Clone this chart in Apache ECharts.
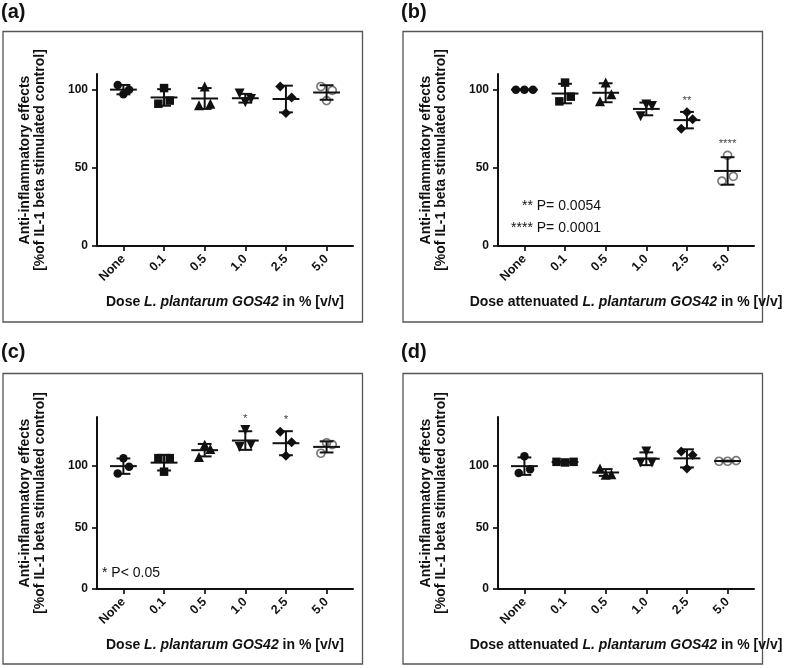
<!DOCTYPE html>
<html>
<head>
<meta charset="utf-8">
<script src="https://cdn.jsdelivr.net/npm/echarts@6/dist/echarts.min.js"></script>
<style>
html,body{margin:0;padding:0;background:#fff;}
#chart{width:800px;height:668px;}
</style>
</head>
<body>
<div id="chart"></div>
<script>
// ---- data ----
const doses = ['None', '0.1', '0.5', '1.0', '2.5', '5.0'];
const yTicks = [0, 50, 100];
// three replicate values per dose (listed left -> right as drawn)
const panelA = [[103, 97, 100], [91, 101, 93], [90, 102, 91], [97.5, 92, 94], [102, 85, 95], [102, 93, 99.5]];
const panelB = [[100, 100, 100], [92.5, 104.5, 95.5], [92.5, 104.5, 97], [83, 90.5, 89.5], [75, 85.5, 81], [41.5, 58, 44.5]];
const panelC = [[94, 106.5, 99.5], [106.5, 95.5, 106.5], [107.5, 117.5, 114], [115.5, 129.5, 117.5], [128, 108.5, 119.5], [110.5, 119, 117.5]];
const panelD = [[94.5, 108, 97.5], [103.5, 103, 103.5], [98, 93, 93.5], [103, 112, 103], [112, 98, 109], [104, 104, 104.5]];
const starsA = ['', '', '', '', '', ''];
const starsB = ['', '', '', '', '**', '****'];
const starsC = ['', '', '', '*', '*', ''];
const starsD = ['', '', '', '', '', ''];
const yMaxTop = 110;
const yMaxBottom = 140;
const yName = 'Anti-inflammatory effects\n[%of IL-1 beta stimulated control]';
const xNamePlain = ['Dose ', 'L. plantarum GOS42', ' in % [v/v]'];
const xNameAtt = ['Dose attenuated ', 'L. plantarum GOS42', ' in % [v/v]'];

// ---- styling ----
const FONT = '"Liberation Sans", Arial, Helvetica, sans-serif';
const INK = '#111';
const markers = [
  { symbol: 'circle', size: 8.5, rotate: 0, color: INK, border: INK, bw: 0 },
  { symbol: 'rect', size: 8.5, rotate: 0, color: INK, border: INK, bw: 0 },
  { symbol: 'triangle', size: 10, rotate: 0, color: INK, border: INK, bw: 0 },
  { symbol: 'triangle', size: 10, rotate: 180, color: INK, border: INK, bw: 0 },
  { symbol: 'diamond', size: 10, rotate: 0, color: INK, border: INK, bw: 0 },
  { symbol: 'circle', size: 8, rotate: 0, color: 'rgba(255,255,255,0)', border: '#7a7a7a', bw: 1.7 }
];

function meanSd(arr) {
  const m = arr.reduce((a, b) => a + b, 0) / arr.length;
  const v = arr.reduce((a, b) => a + (b - m) * (b - m), 0) / (arr.length - 1);
  return [m, Math.sqrt(v)];
}

const panels = [
  { data: panelA, stars: starsA, yMax: yMaxTop, left: 97, top: 74, xName: xNamePlain },
  { data: panelB, stars: starsB, yMax: yMaxTop, left: 498, top: 74, xName: xNameAtt },
  { data: panelC, stars: starsC, yMax: yMaxBottom, left: 97, top: 417, xName: xNamePlain },
  { data: panelD, stars: starsD, yMax: yMaxBottom, left: 498, top: 417, xName: xNameAtt }
];

const idx = doses.map((d, i) => i);
const grids = [], xAxes = [], yAxes = [], series = [];

panels.forEach((p, k) => {
  grids.push({ left: p.left, top: p.top, width: 256, height: 172, outerBoundsMode: 'none', containLabel: false });
  xAxes.push({
    gridIndex: k, type: 'value', min: -0.65, max: 5.65,
    splitLine: { show: false },
    axisLine: { show: true, onZero: false, lineStyle: { color: INK, width: 2 } },
    axisTick: { show: true, length: 5, customValues: idx, lineStyle: { color: INK, width: 1.7 } },
    axisLabel: {
      show: true, customValues: idx, rotate: 45, margin: 11,
      formatter: v => doses[Math.round(v)],
      fontFamily: FONT, fontWeight: 'bold', fontSize: 12.5, color: INK
    },
    name: '{n|' + p.xName[0] + '}{i|' + p.xName[1] + '}{n|' + p.xName[2] + '}',
    nameLocation: 'middle', nameGap: 49, nameMoveOverlap: false,
    nameTextStyle: {
      rich: {
        n: { fontFamily: FONT, fontWeight: 'bold', fontSize: 14, color: INK },
        i: { fontFamily: FONT, fontWeight: 'bold', fontStyle: 'italic', fontSize: 14, color: INK }
      }
    }
  });
  yAxes.push({
    gridIndex: k, type: 'value', min: 0, max: p.yMax,
    splitLine: { show: false },
    axisLine: { show: true, onZero: false, lineStyle: { color: INK, width: 2 } },
    axisTick: { show: true, length: 5, customValues: yTicks, lineStyle: { color: INK, width: 1.7 } },
    axisLabel: {
      show: true, customValues: yTicks, margin: 9,
      fontFamily: FONT, fontWeight: 'bold', fontSize: 12, color: INK
    },
    name: yName, nameLocation: 'middle', nameGap: 49, nameMoveOverlap: false,
    nameTextStyle: { fontFamily: FONT, fontWeight: 'bold', fontSize: 14, lineHeight: 15, color: INK }
  });

  // points
  const pts = [];
  p.data.forEach((grp, i) => {
    const mk = markers[i];
    const spread = (Math.max(...grp) - Math.min(...grp)) < 4 ? 0.21 : 0.14;
    grp.forEach((v, j) => {
      pts.push({
        value: [i + (j - 1) * spread, v],
        symbol: mk.symbol, symbolSize: mk.size, symbolRotate: mk.rotate,
        itemStyle: { color: mk.color, borderColor: mk.border, borderWidth: mk.bw, opacity: 1 }
      });
    });
  });
  series.push({
    type: 'scatter', xAxisIndex: k, yAxisIndex: k, data: pts, z: 2,
    silent: true, animation: false
  });

  // mean +/- SD
  const bars = p.data.map((grp, i) => { const ms = meanSd(grp); return [i, ms[0], ms[1]]; });
  series.push({
    type: 'custom', xAxisIndex: k, yAxisIndex: k, data: bars, z: 3, clip: false,
    silent: true, animation: false,
    encode: { x: 0, y: 1 },
    renderItem: function (params, api) {
      const x = api.value(0), m = api.value(1), sd = api.value(2);
      const c = api.coord([x, m]);
      const t = api.coord([x, m + sd]);
      const b = api.coord([x, m - sd]);
      const hw = api.size([0.33, 0])[0];
      const cw = api.size([0.17, 0])[0];
      const st = { stroke: INK, lineWidth: 2 };
      return {
        type: 'group', children: [
          { type: 'line', shape: { x1: c[0] - hw, y1: c[1], x2: c[0] + hw, y2: c[1] }, style: st },
          { type: 'line', shape: { x1: c[0], y1: t[1], x2: c[0], y2: b[1] }, style: st },
          { type: 'line', shape: { x1: c[0] - cw, y1: t[1], x2: c[0] + cw, y2: t[1] }, style: st },
          { type: 'line', shape: { x1: c[0] - cw, y1: b[1], x2: c[0] + cw, y2: b[1] }, style: st }
        ]
      };
    }
  });

  // significance stars
  const starPts = [];
  p.stars.forEach((s, i) => {
    if (!s) return;
    const ms = meanSd(p.data[i]);
    const top = Math.max(ms[0] + ms[1], Math.max(...p.data[i]));
    starPts.push({ value: [i, top], label: { formatter: s } });
  });
  if (starPts.length) {
    series.push({
      type: 'scatter', xAxisIndex: k, yAxisIndex: k, data: starPts, z: 4,
      symbolSize: 1, itemStyle: { color: 'rgba(0,0,0,0)' }, silent: true, animation: false,
      label: { show: true, position: 'top', distance: 5, fontFamily: FONT, fontSize: 11.5, color: INK }
    });
  }
});

// panel frames, letters and annotations
const frames = [[3, 31.5], [403, 31.5], [3, 373.5], [403, 373.5]].map(a => ({
  type: 'rect', shape: { x: a[0], y: a[1], width: 359.5, height: 290.5 },
  style: { fill: 'none', stroke: '#555', lineWidth: 1.3 }, silent: true
}));
const letters = [['(a)', 1, 2], ['(b)', 401, 2], ['(c)', 1, 342], ['(d)', 401, 342]].map(a => ({
  type: 'text', x: a[1], y: a[2],
  style: { text: a[0], font: 'bold 20px ' + FONT, fill: INK, textAlign: 'left', textVerticalAlign: 'top' }
}));
const notes = [
  { type: 'text', x: 601, y: 206, style: { text: '** P= 0.0054', font: '14px ' + FONT, fill: INK, textAlign: 'right', textVerticalAlign: 'middle' } },
  { type: 'text', x: 601, y: 228, style: { text: '**** P= 0.0001', font: '14px ' + FONT, fill: INK, textAlign: 'right', textVerticalAlign: 'middle' } },
  { type: 'text', x: 102, y: 573, style: { text: '* P< 0.05', font: '14px ' + FONT, fill: INK, textAlign: 'left', textVerticalAlign: 'middle' } }
];

const chart = echarts.init(document.getElementById('chart'), null, { renderer: 'canvas' });
chart.setOption({
  animation: false,
  backgroundColor: '#fff',
  grid: grids,
  xAxis: xAxes,
  yAxis: yAxes,
  series: series,
  graphic: { elements: frames.concat(letters, notes) }
});
</script>
</body>
</html>
